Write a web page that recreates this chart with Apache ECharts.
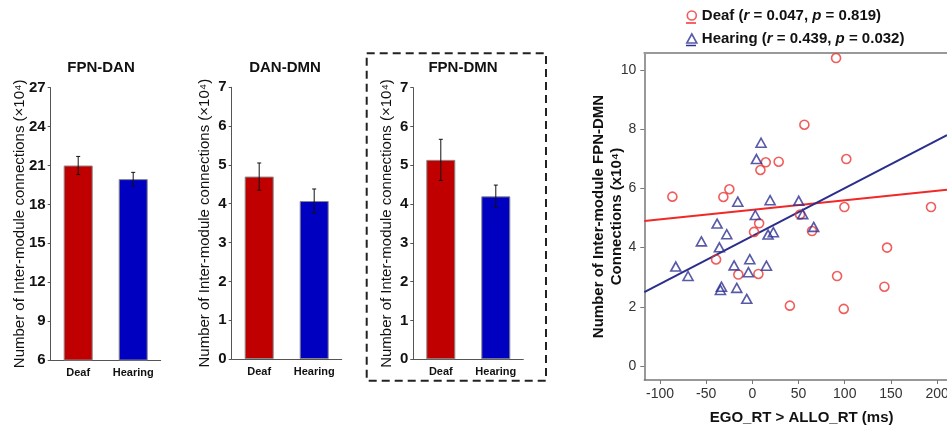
<!DOCTYPE html>
<html><head><meta charset="utf-8">
<script src="https://cdn.jsdelivr.net/npm/echarts@6/dist/echarts.min.js"></script>
<style>html,body{margin:0;padding:0;background:#fff}#c{width:947px;height:427px}</style>
</head><body><div id="c"></div>
<script>
// ---- data ----
const groups = ['Deaf', 'Hearing'];
const panelTitles = ['FPN-DAN', 'DAN-DMN', 'FPN-DMN'];
const fpnDanMean = [21.0, 19.95];
const fpnDanErr = [0.70, 0.52];
const danDmnMean = [4.70, 4.07];
const danDmnErr = [0.35, 0.31];
const fpnDmnMean = [5.14, 4.20];
const fpnDmnErr = [0.53, 0.29];

const deafRT = [90.6, 56.3, 14.5, 28.5, 8.7, 101.7, -86.6, -24.9, -31.4, 7.3, 99.6, 193.4, 51.6, 64.6, 1.8, -39.3, -15.2, 6.5, 40.6, 145.8, 91.7, 142.9, 98.9];
const deafConn = [10.4, 8.15, 6.88, 6.9, 6.62, 6.99, 5.72, 5.97, 5.71, 4.82, 5.37, 5.37, 5.12, 4.56, 4.53, 3.6, 3.09, 3.11, 2.04, 4.0, 3.04, 2.68, 1.93];
const hearingRT = [9.4, 4.4, -15.8, 19.2, 50.2, 3.2, -38.2, 54.5, 66.4, -27.7, 17.0, 22.7, -55.2, -35.7, -2.8, -82.9, -19.8, 15.2, -69.6, -4.3, -33.5, -34.6, -16.9, -6.1];
const hearingConn = [7.54, 6.99, 5.55, 5.6, 5.58, 5.1, 4.81, 5.13, 4.7, 4.45, 4.44, 4.52, 4.21, 4.01, 3.61, 3.36, 3.4, 3.39, 3.04, 3.17, 2.68, 2.57, 2.64, 2.27];
const deafFitX = [-117, 210.7];
const deafFitY = [4.90, 5.95];
const hearingFitX = [-117, 210.7];
const hearingFitY = [2.50, 7.80];
const deafStats = {r: '0.047', p: '0.819'};
const hearingStats = {r: '0.439', p: '0.032'};
const xTicks = [-100, -50, 0, 50, 100, 150, 200];
const yTicks = [0, 2, 4, 6, 8, 10];

// ---- helpers ----
const FONT = 'Liberation Sans, Arial, sans-serif';
const RED = '#C00000', BLUE = '#0000C0';
const zip = (a, b) => a.map((v, i) => [v, b[i]]);
const errData = (m, e) => m.map((v, i) => [i, v - e[i], v + e[i]]);

function errRender(params, api) {
  const x = api.value(0), lo = api.value(1), hi = api.value(2);
  const a = api.coord([x, hi]), b = api.coord([x, lo]);
  const c = 2, st = {stroke: '#111', lineWidth: 1};
  return {type: 'group', children: [
    {type: 'line', shape: {x1: a[0], y1: a[1], x2: b[0], y2: b[1]}, style: st},
    {type: 'line', shape: {x1: a[0] - c, y1: a[1], x2: a[0] + c, y2: a[1]}, style: st},
    {type: 'line', shape: {x1: b[0] - c, y1: b[1], x2: b[0] + c, y2: b[1]}, style: st}
  ]};
}

const barGrids = [
  {left: 50.7, top: 87.7, width: 110, height: 272.3, outerBoundsMode: 'none'},
  {left: 231.7, top: 87.3, width: 110, height: 271.7, outerBoundsMode: 'none'},
  {left: 413.3, top: 87.7, width: 110, height: 271.6, outerBoundsMode: 'none'}
];
const barY = [
  {min: 6, max: 27, interval: 3, gap: 23},
  {min: 0, max: 7, interval: 1, gap: 19},
  {min: 0, max: 7, interval: 1, gap: 19}
];
const means = [fpnDanMean, danDmnMean, fpnDmnMean];
const errs = [fpnDanErr, danDmnErr, fpnDmnErr];

const grids = barGrids.concat([{left: 644.3, top: 53, width: 302.7, height: 327, outerBoundsMode: 'none'}]);

const xAxes = [], yAxes = [], series = [];
for (let i = 0; i < 3; i++) {
  xAxes.push({
    type: 'category', gridIndex: i, data: groups,
    axisLine: {lineStyle: {color: '#555', width: 1}},
    axisTick: {show: false},
    axisLabel: {color: '#111', fontFamily: FONT, fontWeight: 'bold', fontSize: 11, margin: 7}
  });
  yAxes.push({
    type: 'value', gridIndex: i, min: barY[i].min, max: barY[i].max, interval: barY[i].interval,
    name: 'Number of Inter-module connections (×10⁴)', nameLocation: 'middle', nameGap: barY[i].gap,
    nameMoveOverlap: false,
    nameTextStyle: {color: '#111', fontFamily: FONT, fontSize: 15},
    axisLine: {show: true, lineStyle: {color: '#555', width: 1}},
    axisTick: {show: true, length: 3, lineStyle: {color: '#555'}},
    axisLabel: {color: '#111', fontFamily: FONT, fontWeight: 'bold', fontSize: 15, margin: 5},
    splitLine: {show: false}
  });
  series.push({
    type: 'bar', xAxisIndex: i, yAxisIndex: i, barWidth: 29,
    data: means[i].map((v, k) => ({value: v, itemStyle: {color: k === 0 ? RED : BLUE}})),
    itemStyle: {borderColor: '#888', borderWidth: 1}
  });
  series.push({
    type: 'custom', xAxisIndex: i, yAxisIndex: i, renderItem: errRender,
    data: errData(means[i], errs[i]), encode: {x: 0, y: [1, 2]}, z: 10
  });
}
// scatter panel
xAxes.push({
  type: 'value', gridIndex: 3, min: -117, max: 210.7,
  name: 'EGO_RT > ALLO_RT (ms)', nameLocation: 'middle', nameGap: 30, nameMoveOverlap: false,
  nameTextStyle: {color: '#111', fontFamily: FONT, fontWeight: 'bold', fontSize: 15, padding: [0, 0, 0, 12]},
  axisLine: {show: true, onZero: false, lineStyle: {color: '#777', width: 1.5}},
  axisTick: {show: true, length: 4, customValues: xTicks, lineStyle: {color: '#777'}},
  axisLabel: {customValues: xTicks, color: '#333', fontFamily: FONT, fontSize: 14, margin: 7},
  splitLine: {show: false}
});
xAxes.push({
  type: 'value', gridIndex: 3, position: 'top', min: -117, max: 210.7,
  axisLine: {show: true, onZero: false, lineStyle: {color: '#999', width: 2}},
  axisTick: {show: false}, axisLabel: {show: false}, splitLine: {show: false}
});
yAxes.push({
  type: 'value', gridIndex: 3, min: -0.47, max: 10.57,
  name: 'Number of Inter-module FPN-DMN\nConnections (x10⁴)', nameLocation: 'middle', nameGap: 18,
  nameMoveOverlap: false,
  nameTextStyle: {color: '#111', fontFamily: FONT, fontWeight: 'bold', fontSize: 15, lineHeight: 18},
  axisLine: {show: true, onZero: false, lineStyle: {color: '#777', width: 1.5}},
  axisTick: {show: true, length: 4, customValues: yTicks, lineStyle: {color: '#777'}},
  axisLabel: {customValues: yTicks, color: '#333', fontFamily: FONT, fontSize: 14, margin: 8},
  splitLine: {show: false}
});
series.push({
  name: 'Deaf fit', type: 'line', xAxisIndex: 3, yAxisIndex: 3, data: zip(deafFitX, deafFitY),
  showSymbol: false, lineStyle: {color: '#F02828', width: 2}, z: 3, silent: true
});
series.push({
  name: 'Hearing fit', type: 'line', xAxisIndex: 3, yAxisIndex: 3, data: zip(hearingFitX, hearingFitY),
  showSymbol: false, lineStyle: {color: '#2A2E8C', width: 2}, z: 3, silent: true
});
series.push({
  name: 'Deaf', type: 'scatter', xAxisIndex: 3, yAxisIndex: 3, data: zip(deafRT, deafConn),
  symbol: 'circle', symbolSize: 9,
  itemStyle: {color: 'rgba(255,255,255,0)', borderColor: '#EE3333', borderWidth: 1.6}, z: 4
});
series.push({
  name: 'Hearing', type: 'scatter', xAxisIndex: 3, yAxisIndex: 3, data: zip(hearingRT, hearingConn),
  symbol: 'triangle', symbolSize: [10, 9],
  itemStyle: {color: 'rgba(255,255,255,0)', borderColor: '#2E3192', borderWidth: 1.6}, z: 4
});

const stats = {Deaf: deafStats, Hearing: hearingStats};
const option = {
  animation: false,
  backgroundColor: '#fff',
  grid: grids,
  xAxis: xAxes,
  yAxis: yAxes,
  series: series,
  legend: {
    data: [
      {name: 'Deaf', icon: 'circle', itemStyle: {color: '#fff', borderColor: '#EE3333', borderWidth: 1.6}},
      {name: 'Hearing', icon: 'triangle', itemStyle: {color: '#fff', borderColor: '#2E3192', borderWidth: 1.6}}
    ],
    orient: 'vertical', left: 686, top: 8, padding: 0, itemGap: 8, itemWidth: 10, itemHeight: 9,
    textStyle: {color: '#111', fontFamily: FONT, fontWeight: 'bold', fontSize: 15,
      rich: {i: {fontStyle: 'italic', fontWeight: 'bold', fontSize: 15, fontFamily: FONT, color: '#111'}}},
    formatter: n => n + ' ({i|r} = ' + stats[n].r + ', {i|p} = ' + stats[n].p + ')'
  },
  graphic: [
    {type: 'text', x: 101, y: 68, style: {text: panelTitles[0], align: 'center', verticalAlign: 'middle', font: 'bold 15px ' + FONT, fill: '#111'}},
    {type: 'text', x: 285, y: 68, style: {text: panelTitles[1], align: 'center', verticalAlign: 'middle', font: 'bold 15px ' + FONT, fill: '#111'}},
    {type: 'text', x: 463, y: 68, style: {text: panelTitles[2], align: 'center', verticalAlign: 'middle', font: 'bold 15px ' + FONT, fill: '#111'}},
    {type: 'rect', shape: {x: 366.7, y: 53.3, width: 179.3, height: 327.4}, style: {fill: 'none', stroke: '#222', lineWidth: 2, lineDash: [8, 5]}},
    {type: 'line', shape: {x1: 686, y1: 23, x2: 696, y2: 23}, style: {stroke: '#EE3333', lineWidth: 1.5}},
    {type: 'line', shape: {x1: 686, y1: 45.5, x2: 696, y2: 45.5}, style: {stroke: '#2E3192', lineWidth: 1.5}}
  ]
};
const chart = echarts.init(document.getElementById('c'), null, {renderer: 'canvas'});
chart.setOption(option);
</script>
</body></html>
